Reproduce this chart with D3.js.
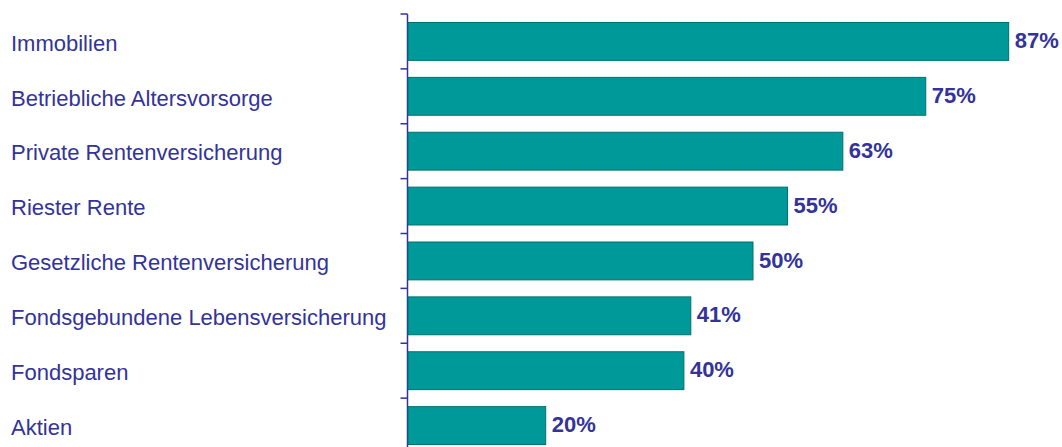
<html>
<head>
  <style>
    body { margin: 0; background: #fff; }
    .cat { font-family: Arial, 'Liberation Sans', sans-serif; font-size: 22px; fill: #333399; }
    .val { font-family: Arial, 'Liberation Sans', sans-serif; font-size: 22px; font-weight: bold; fill: #333399; }
  </style>
</head>
<body>
  <div id="chart"></div>
  <script src="https://d3js.org/d3.v7.min.js"></script>
  <script>
  const categories = ["Immobilien", "Betriebliche Altersvorsorge", "Private Rentenversicherung",
    "Riester Rente", "Gesetzliche Rentenversicherung", "Fondsgebundene Lebensversicherung",
    "Fondsparen", "Aktien"];
  const values = [87, 75, 63, 55, 50, 41, 40, 20];

  const width = 1062, height = 447;

  const svg = d3.select("#chart")
    .append("svg")
      .attr("width", width)
      .attr("height", height);

  const x = d3.scaleLinear()
    .domain([0, 100])
    .range([407.5, 1098.5]);

  const y = d3.scaleBand()
    .domain(categories)
    .range([14, 453])
    .paddingInner(0.31)
    .paddingOuter(0.155);

  // axis line with ticks on the category boundaries
  const step = y.step();
  const bounds = d3.range(categories.length + 1).map(i => 14 + i * step);
  svg.append("line")
    .attr("x1", x(0)).attr("x2", x(0))
    .attr("y1", 14).attr("y2", height)
    .attr("stroke", "#333399").attr("stroke-width", 1.5);
  svg.selectAll(".tick")
    .data(bounds)
    .join("line")
      .attr("class", "tick")
      .attr("x1", x(0) - 7).attr("x2", x(0))
      .attr("y1", d => d).attr("y2", d => d)
      .attr("stroke", "#333399").attr("stroke-width", 1.5);

  svg.selectAll(".bar")
    .data(values)
    .join("rect")
      .attr("class", "bar")
      .attr("x", x(0) + 0.5)
      .attr("y", (d, i) => y(categories[i]))
      .attr("width", d => x(d) - x(0) - 0.5)
      .attr("height", y.bandwidth())
      .attr("fill", "#009999")
      .attr("stroke", "#006f6f")
      .attr("stroke-width", 1);

  svg.selectAll(".cat")
    .data(categories)
    .join("text")
      .attr("class", "cat")
      .attr("x", 11)
      .attr("y", d => y(d) + y.bandwidth() / 2)
      .attr("dy", "0.42em")
      .text(d => d);

  svg.selectAll(".val")
    .data(values)
    .join("text")
      .attr("class", "val")
      .attr("x", d => x(d) + 6)
      .attr("y", (d, i) => y(categories[i]) + y.bandwidth() / 2)
      .attr("dy", "0.3em")
      .text(d => d + "%");
  </script>
</body>
</html>
